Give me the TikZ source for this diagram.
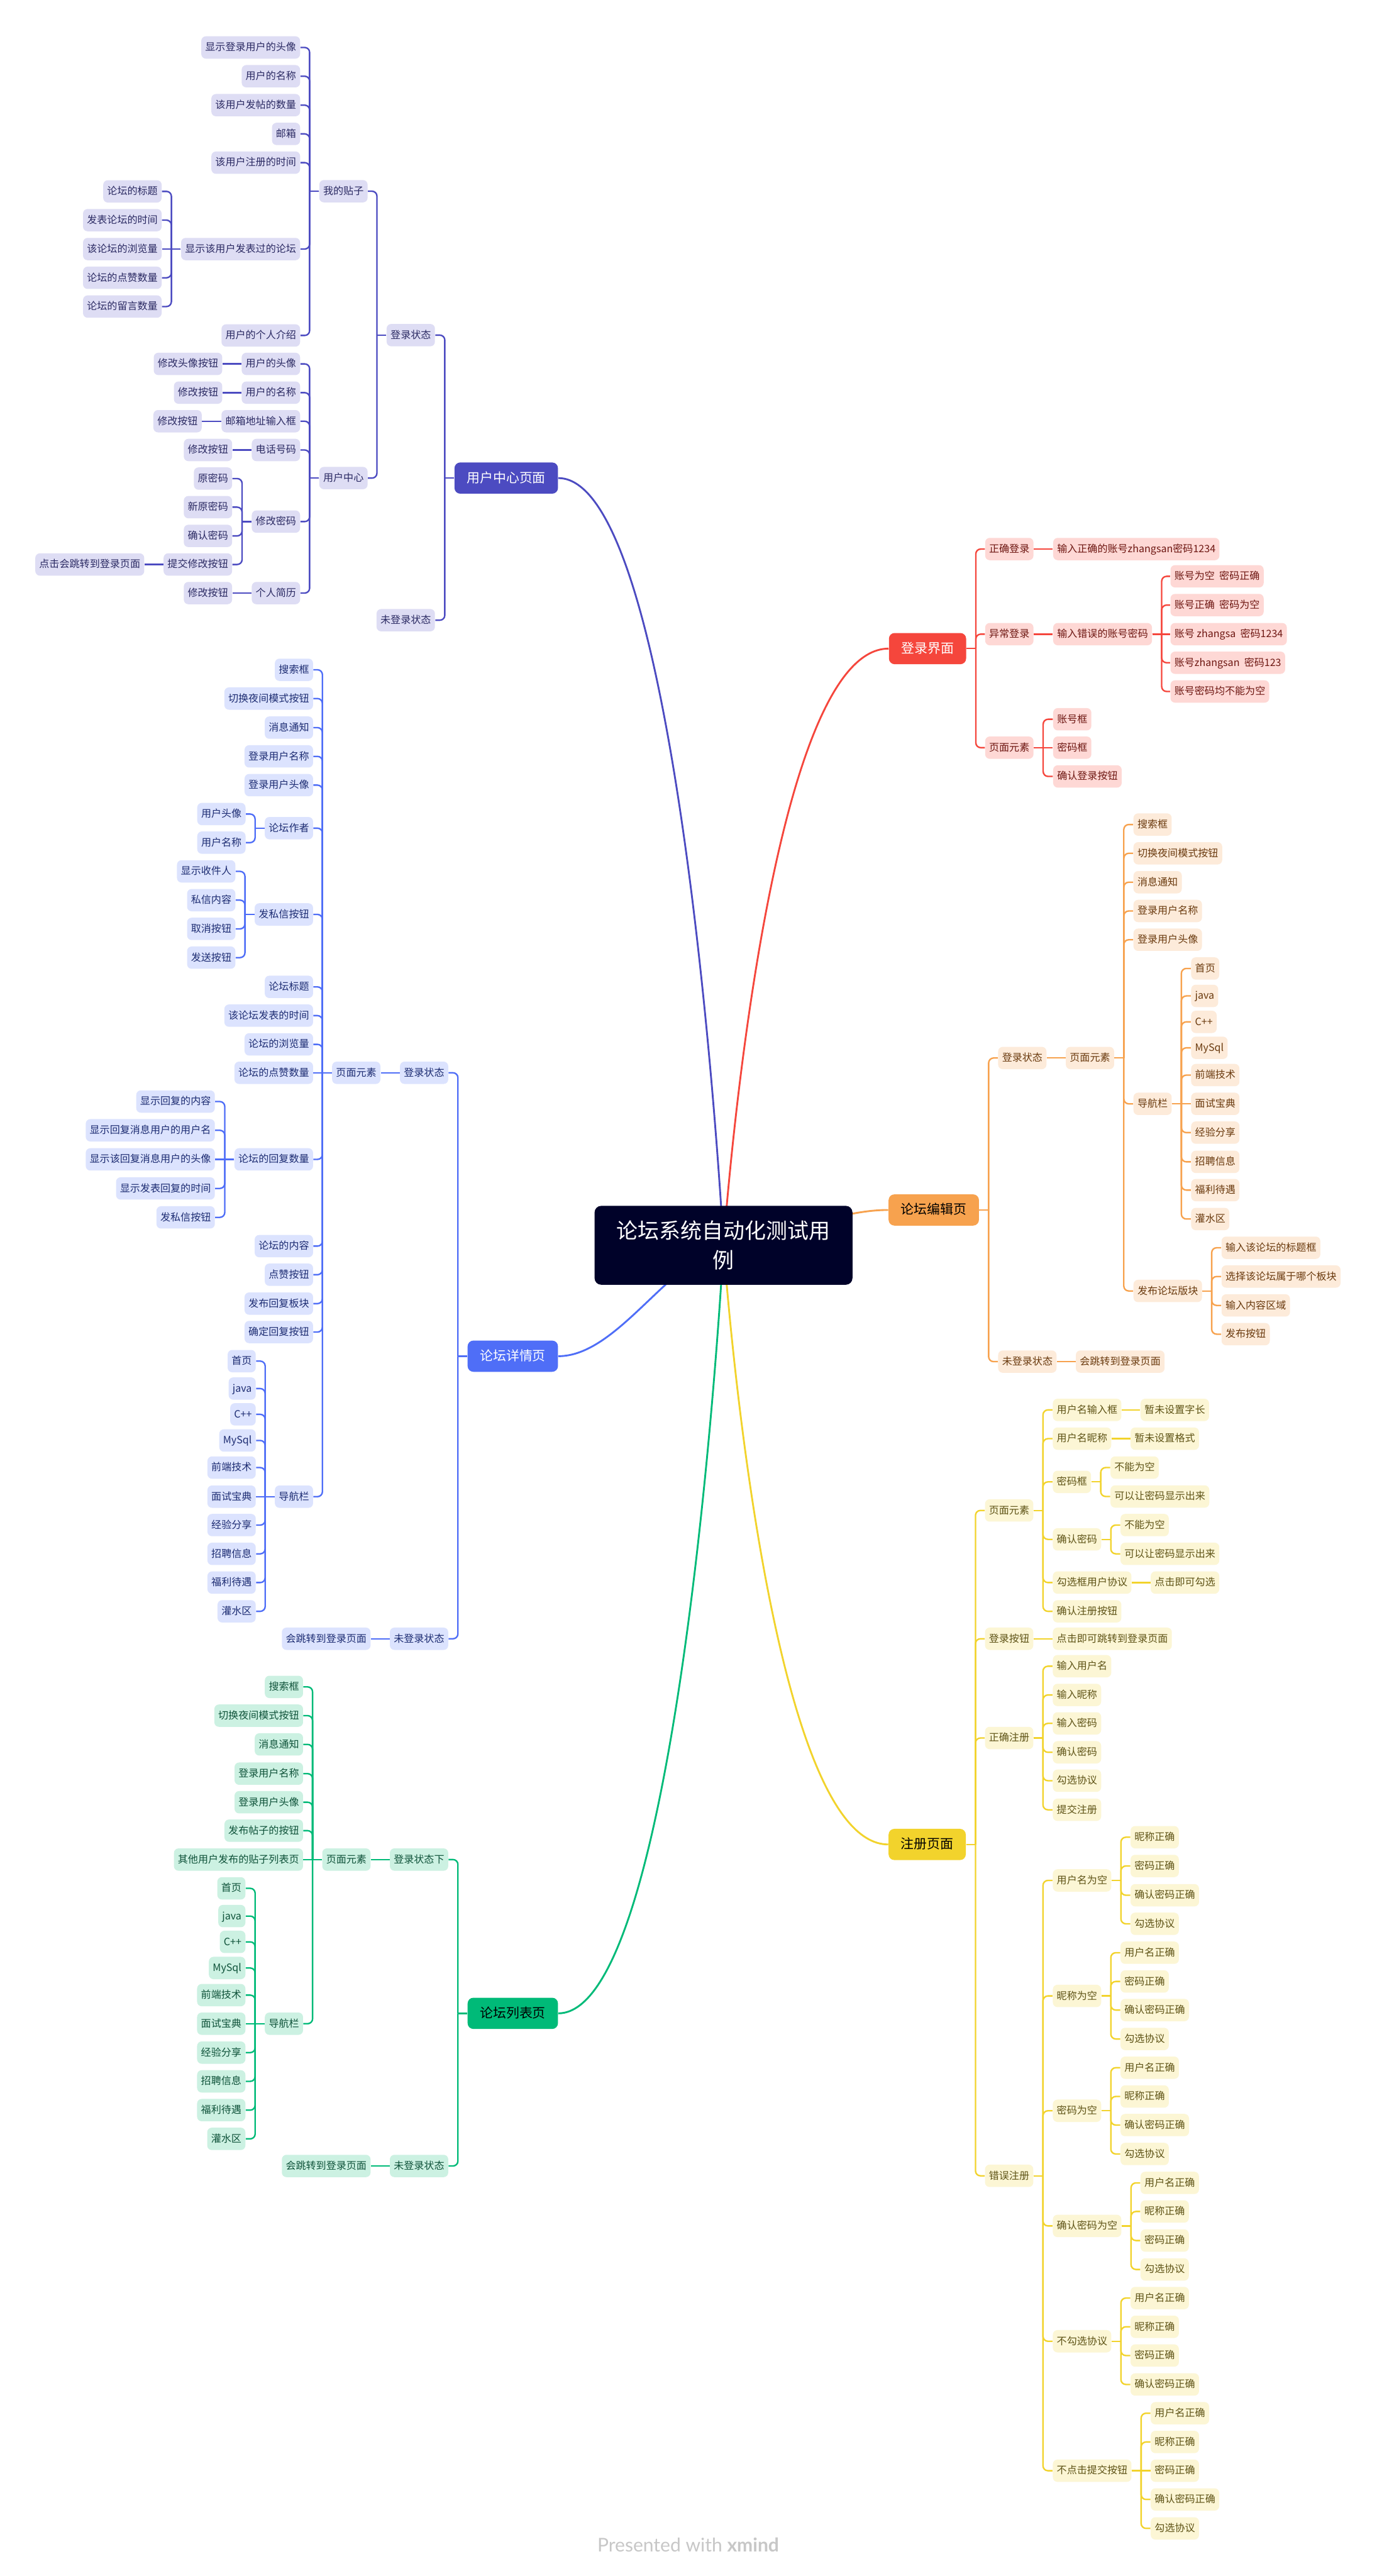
\documentclass[tikz,border=0pt]{standalone}
\usepackage{fontspec}
\setmainfont{Noto Sans CJK SC}
\newfontfamily\xmfont{Lato}
\usetikzlibrary{calc}

\definecolor{rootc}{HTML}{000229}
\definecolor{puM}{HTML}{4C4BC1}
\definecolor{puL}{HTML}{DEDDF4}
\definecolor{puT}{HTML}{2B2A63}
\definecolor{blM}{HTML}{4F6EF7}
\definecolor{blL}{HTML}{DCE3FE}
\definecolor{blT}{HTML}{1D2C72}
\definecolor{grM}{HTML}{00BA78}
\definecolor{grL}{HTML}{CCF1E2}
\definecolor{grT}{HTML}{0E5239}
\definecolor{rdM}{HTML}{F5463C}
\definecolor{rdL}{HTML}{FED8D5}
\definecolor{rdT}{HTML}{6E1712}
\definecolor{ogM}{HTML}{F7A24E}
\definecolor{ogL}{HTML}{FDEBDA}
\definecolor{ogT}{HTML}{6A3A0E}
\definecolor{yeM}{HTML}{F2D32C}
\definecolor{yeL}{HTML}{FCF6D5}
\definecolor{yeT}{HTML}{5E5316}

\tikzset{
  leaf/.style={rounded corners=2.8pt, inner xsep=2.4pt, inner ysep=0pt, minimum height=13.6pt,
    text height=5.2pt, text depth=1.1pt, font=\fontsize{6.15}{7.4}\selectfont},
  topic/.style={rounded corners=3.5pt, inner xsep=7.5pt, inner ysep=0pt, minimum height=19pt,
    text height=6.8pt, text depth=1.4pt, font=\fontsize{8}{9.6}\selectfont},
  central/.style={fill=rootc, text=white, rounded corners=4pt, minimum width=157pt, minimum height=48pt,
    align=center, font=\fontsize{13}{18}\selectfont},
  lnk/.style={line width=0.9pt},
  curve/.style={line width=1.1pt},
}

% elbow links, children on the left / on the right
\newcommand{\llink}[2]{%
  \draw[lnk] (#1.west) -- ++(-5.7,0);
  \draw[lnk,rounded corners=3pt] (#1.west) ++(-5.7,0) |- (#2.east);}
\newcommand{\rlink}[2]{%
  \draw[lnk] (#1.east) -- ++(5.7,0);
  \draw[lnk,rounded corners=3pt] (#1.east) ++(5.7,0) |- (#2.west);}
\newcommand{\llinks}[2]{\foreach \kid in {#2}{\llink{#1}{\kid}}}
\newcommand{\rlinks}[2]{\foreach \kid in {#2}{\rlink{#1}{\kid}}}

\begin{document}
\begin{tikzpicture}[x=1pt,y=-1pt]
    \fill[white] (0,0) rectangle (838,1568);
    \useasboundingbox (0,0) rectangle (838,1568);
    \coordinate (rc) at (440.5,758);

    % user centre page
    \begin{scope}[leaf/.append style={fill=puL,text=puT}, lnk/.append style={draw=puM}]
    \node[topic, fill=puM, text=white, anchor=east] (u) at (339.9,291) {用户中心页面};
    \node[leaf, anchor=east] (u1) at (265,204) {登录状态};
    \node[leaf, anchor=east] (u2) at (265,377.5) {未登录状态};
    \node[leaf, anchor=east] (u11) at (224,116.4) {我的贴子};
    \node[leaf, anchor=east] (u12) at (224,291) {用户中心};
    \node[leaf, anchor=east] (u111) at (182.9,28.9) {显示登录用户的头像};
    \node[leaf, anchor=east] (u112) at (182.9,46.4) {用户的名称};
    \node[leaf, anchor=east] (u113) at (182.9,64) {该用户发帖的数量};
    \node[leaf, anchor=east] (u114) at (182.9,81.5) {邮箱};
    \node[leaf, anchor=east] (u115) at (182.9,99) {该用户注册的时间};
    \node[leaf, anchor=east] (u116) at (182.9,151.6) {显示该用户发表过的论坛};
    \node[leaf, anchor=east] (u117) at (182.9,204.2) {用户的个人介绍};
    \node[leaf, anchor=east] (u1161) at (98.6,116.5) {论坛的标题};
    \node[leaf, anchor=east] (u1162) at (98.6,134) {发表论坛的时间};
    \node[leaf, anchor=east] (u1163) at (98.6,151.6) {该论坛的浏览量};
    \node[leaf, anchor=east] (u1164) at (98.6,169.1) {论坛的点赞数量};
    \node[leaf, anchor=east] (u1165) at (98.6,186.6) {论坛的留言数量};
    \node[leaf, anchor=east] (u121) at (182.9,221.5) {用户的头像};
    \node[leaf, anchor=east] (u122) at (182.9,239) {用户的名称};
    \node[leaf, anchor=east] (u123) at (182.9,256.4) {邮箱地址输入框};
    \node[leaf, anchor=east] (u124) at (182.9,273.9) {电话号码};
    \node[leaf, anchor=east] (u125) at (182.9,317.5) {修改密码};
    \node[leaf, anchor=east] (u126) at (182.9,361) {个人简历};
    \node[leaf, anchor=east] (u1211) at (135.5,221.5) {修改头像按钮};
    \node[leaf, anchor=east] (u1221) at (135.5,239) {修改按钮};
    \node[leaf, anchor=east] (u1231) at (123,256.4) {修改按钮};
    \node[leaf, anchor=east] (u1241) at (141.5,273.9) {修改按钮};
    \node[leaf, anchor=east] (u1251) at (141.5,291.3) {原密码};
    \node[leaf, anchor=east] (u1252) at (141.5,308.7) {新原密码};
    \node[leaf, anchor=east] (u1253) at (141.5,326.2) {确认密码};
    \node[leaf, anchor=east] (u1254) at (141.5,343.6) {提交修改按钮};
    \node[leaf, anchor=east] (u12541) at (88,343.6) {点击会跳转到登录页面};
    \node[leaf, anchor=east] (u1261) at (141.5,361) {修改按钮};
    \llinks{u}{u1,u2}
    \llinks{u1}{u11,u12}
    \llinks{u11}{u111,u112,u113,u114,u115,u116,u117}
    \llinks{u116}{u1161,u1162,u1164,u1165}
    \draw[lnk] (u116) -- (u1163);
    \llinks{u12}{u121,u122,u123,u124,u125,u126}
    \draw[lnk] (u121) -- (u1211);
    \draw[lnk] (u122) -- (u1221);
    \draw[lnk] (u123) -- (u1231);
    \draw[lnk] (u124) -- (u1241);
    \llinks{u125}{u1251,u1252,u1253,u1254}
    \draw[lnk] (u1254) -- (u12541);
    \draw[lnk] (u126) -- (u1261);
    \end{scope}

    % login page
    \begin{scope}[leaf/.append style={fill=rdL,text=rdT}, lnk/.append style={draw=rdM}]
    \node[topic, fill=rdM, text=white, anchor=west] (r) at (541,394.8) {登录界面};
    \node[leaf, anchor=west] (r1) at (599.6,334.2) {正确登录};
    \node[leaf, anchor=west] (r2) at (599.6,386) {异常登录};
    \node[leaf, anchor=west] (r3) at (599.6,455.1) {页面元素};
    \node[leaf, anchor=west] (r11) at (641,334.2) {输入正确的账号zhangsan密码1234};
    \node[leaf, anchor=west] (r21) at (641,386) {输入错误的账号密码};
    \node[leaf, anchor=west] (r211) at (712.4,350.8) {账号为空\ \ 密码正确};
    \node[leaf, anchor=west] (r212) at (712.4,368.3) {账号正确\ \ 密码为空};
    \node[leaf, anchor=west] (r213) at (712.4,386) {账号 zhangsa\ \ 密码1234};
    \node[leaf, anchor=west] (r214) at (712.4,403.4) {账号zhangsan\ \ 密码123};
    \node[leaf, anchor=west] (r215) at (712.4,420.9) {账号密码均不能为空};
    \node[leaf, anchor=west] (r31) at (641,437.8) {账号框};
    \node[leaf, anchor=west] (r32) at (641,455.1) {密码框};
    \node[leaf, anchor=west] (r33) at (641,472.6) {确认登录按钮};
    \rlinks{r}{r1,r2,r3}
    \draw[lnk] (r1) -- (r11);
    \draw[lnk] (r2) -- (r21);
    \rlinks{r21}{r211,r212,r214,r215}
    \draw[lnk] (r21) -- (r213);
    \rlinks{r3}{r31,r33}
    \draw[lnk] (r3) -- (r32);
    \end{scope}

    % forum edit page
    \begin{scope}[leaf/.append style={fill=ogL,text=ogT}, lnk/.append style={draw=ogM}]
    \node[topic, fill=ogM, anchor=west] (e) at (540.8,736.5) {论坛编辑页};
    \node[leaf, anchor=west] (e1) at (607.5,644) {登录状态};
    \node[leaf, anchor=west] (e2) at (607.5,828.8) {未登录状态};
    \node[leaf, anchor=west] (e11) at (648.7,644) {页面元素};
    \node[leaf, anchor=west] (e21) at (654.8,828.8) {会跳转到登录页面};
    \node[leaf, anchor=west] (e111) at (689.9,501.9) {搜索框};
    \node[leaf, anchor=west] (e112) at (689.9,519.4) {切换夜间模式按钮};
    \node[leaf, anchor=west] (e113) at (689.9,537) {消息通知};
    \node[leaf, anchor=west] (e114) at (689.9,554.5) {登录用户名称};
    \node[leaf, anchor=west] (e115) at (689.9,572) {登录用户头像};
    \node[leaf, anchor=west] (e116) at (689.9,671.9) {导航栏};
    \node[leaf, anchor=west] (e117) at (689.9,785.8) {发布论坛版块};
    \node[leaf, anchor=west] (en1) at (725,589.5) {首页};
    \node[leaf, anchor=west] (en2) at (725,606.2) {java};
    \node[leaf, anchor=west] (en3) at (725,622) {C++};
    \node[leaf, anchor=west] (en4) at (725,637.8) {MySql};
    \node[leaf, anchor=west] (en5) at (725,654.4) {前端技术};
    \node[leaf, anchor=west] (en6) at (725,671.9) {面试宝典};
    \node[leaf, anchor=west] (en7) at (725,689.4) {经验分享};
    \node[leaf, anchor=west] (en8) at (725,707.2) {招聘信息};
    \node[leaf, anchor=west] (en9) at (725,724.4) {福利待遇};
    \node[leaf, anchor=west] (en10) at (725,742) {灌水区};
    \node[leaf, anchor=west] (ep1) at (743.5,759.5) {输入该论坛的标题框};
    \node[leaf, anchor=west] (ep2) at (743.5,777) {选择该论坛属于哪个板块};
    \node[leaf, anchor=west] (ep3) at (743.5,794.6) {输入内容区域};
    \node[leaf, anchor=west] (ep4) at (743.5,812.1) {发布按钮};
    \rlinks{e}{e1,e2}
    \draw[lnk] (e1) -- (e11);
    \draw[lnk] (e2) -- (e21);
    \rlinks{e11}{e111,e112,e113,e114,e115,e116,e117}
    \rlinks{e116}{en1,en2,en3,en4,en5,en7,en8,en9,en10}
    \draw[lnk] (e116) -- (en6);
    \rlinks{e117}{ep1,ep2,ep3,ep4}
    \end{scope}

    % register page
    \begin{scope}[leaf/.append style={fill=yeL,text=yeT}, lnk/.append style={draw=yeM}]
    \node[topic, fill=yeM, anchor=west] (z) at (540.8,1122.7) {注册页面};
    \node[leaf, anchor=west] (z1) at (599.5,919.4) {页面元素};
    \node[leaf, anchor=west] (z2) at (599.5,997.5) {登录按钮};
    \node[leaf, anchor=west] (z3) at (599.5,1057.9) {正确注册};
    \node[leaf, anchor=west] (z4) at (599.5,1324.4) {错误注册};
    \node[leaf, anchor=west] (z11) at (640.8,858.2) {用户名输入框};
    \node[leaf, anchor=west] (z12) at (640.8,875.7) {用户名昵称};
    \node[leaf, anchor=west] (z13) at (640.8,902) {密码框};
    \node[leaf, anchor=west] (z14) at (640.8,937) {确认密码};
    \node[leaf, anchor=west] (z15) at (640.8,963.3) {勾选框用户协议};
    \node[leaf, anchor=west] (z16) at (640.8,980.8) {确认注册按钮};
    \node[leaf, anchor=west] (z111) at (694.2,858.2) {暂未设置字长};
    \node[leaf, anchor=west] (z121) at (688.1,875.7) {暂未设置格式};
    \node[leaf, anchor=west] (z131) at (675.9,893.3) {不能为空};
    \node[leaf, anchor=west] (z132) at (675.9,910.9) {可以让密码显示出来};
    \node[leaf, anchor=west] (z141) at (682,928.3) {不能为空};
    \node[leaf, anchor=west] (z142) at (682,945.8) {可以让密码显示出来};
    \node[leaf, anchor=west] (z151) at (700.4,963.3) {点击即可勾选};
    \node[leaf, anchor=west] (z21) at (640.8,997.5) {点击即可跳转到登录页面};
    \node[leaf, anchor=west] (z31) at (640.8,1014.2) {输入用户名};
    \node[leaf, anchor=west] (z32) at (640.8,1031.7) {输入昵称};
    \node[leaf, anchor=west] (z33) at (640.8,1049) {输入密码};
    \node[leaf, anchor=west] (z34) at (640.8,1066.6) {确认密码};
    \node[leaf, anchor=west] (z35) at (640.8,1083.9) {勾选协议};
    \node[leaf, anchor=west] (z36) at (640.8,1101.6) {提交注册};
    \node[leaf, anchor=west] (z41) at (640.8,1144.6) {用户名为空};
    \node[leaf, anchor=west] (z42) at (640.8,1214.9) {昵称为空};
    \node[leaf, anchor=west] (z43) at (640.8,1284.8) {密码为空};
    \node[leaf, anchor=west] (z44) at (640.8,1354.9) {确认密码为空};
    \node[leaf, anchor=west] (z45) at (640.8,1425.1) {不勾选协议};
    \node[leaf, anchor=west] (z46) at (640.8,1503.9) {不点击提交按钮};
    \node[leaf, anchor=west] (z411) at (688.1,1118.3) {昵称正确};
    \node[leaf, anchor=west] (z412) at (688.1,1135.8) {密码正确};
    \node[leaf, anchor=west] (z413) at (688.1,1153.6) {确认密码正确};
    \node[leaf, anchor=west] (z414) at (688.1,1171) {勾选协议};
    \node[leaf, anchor=west] (z421) at (682,1188.6) {用户名正确};
    \node[leaf, anchor=west] (z422) at (682,1206.1) {密码正确};
    \node[leaf, anchor=west] (z423) at (682,1223.5) {确认密码正确};
    \node[leaf, anchor=west] (z424) at (682,1241.1) {勾选协议};
    \node[leaf, anchor=west] (z431) at (682,1258.6) {用户名正确};
    \node[leaf, anchor=west] (z432) at (682,1276.1) {昵称正确};
    \node[leaf, anchor=west] (z433) at (682,1293.5) {确认密码正确};
    \node[leaf, anchor=west] (z434) at (682,1311.1) {勾选协议};
    \node[leaf, anchor=west] (z441) at (694.2,1328.7) {用户名正确};
    \node[leaf, anchor=west] (z442) at (694.2,1346.1) {昵称正确};
    \node[leaf, anchor=west] (z443) at (694.2,1363.8) {密码正确};
    \node[leaf, anchor=west] (z444) at (694.2,1381.4) {勾选协议};
    \node[leaf, anchor=west] (z451) at (688.1,1398.8) {用户名正确};
    \node[leaf, anchor=west] (z452) at (688.1,1416.3) {昵称正确};
    \node[leaf, anchor=west] (z453) at (688.1,1433.8) {密码正确};
    \node[leaf, anchor=west] (z454) at (688.1,1451.4) {确认密码正确};
    \node[leaf, anchor=west] (z461) at (700.4,1468.9) {用户名正确};
    \node[leaf, anchor=west] (z462) at (700.4,1486.4) {昵称正确};
    \node[leaf, anchor=west] (z463) at (700.4,1503.9) {密码正确};
    \node[leaf, anchor=west] (z464) at (700.4,1521.4) {确认密码正确};
    \node[leaf, anchor=west] (z465) at (700.4,1539) {勾选协议};
    \rlinks{z}{z1,z2,z3,z4}
    \rlinks{z1}{z11,z12,z13,z14,z15,z16}
    \draw[lnk] (z11) -- (z111);
    \draw[lnk] (z12) -- (z121);
    \rlinks{z13}{z131,z132}
    \rlinks{z14}{z141,z142}
    \draw[lnk] (z15) -- (z151);
    \draw[lnk] (z2) -- (z21);
    \rlinks{z3}{z31,z32,z33,z34,z35,z36}
    \rlinks{z4}{z41,z42,z43,z44,z45,z46}
    \rlinks{z41}{z411,z412,z413,z414}
    \rlinks{z42}{z421,z422,z423,z424}
    \rlinks{z43}{z431,z432,z433,z434}
    \rlinks{z44}{z441,z442,z443,z444}
    \rlinks{z45}{z451,z452,z453,z454}
    \rlinks{z46}{z461,z462,z464,z465}
    \draw[lnk] (z46) -- (z463);
    \end{scope}

    % forum detail page
    \begin{scope}[leaf/.append style={fill=blL,text=blT}, lnk/.append style={draw=blM}]
    \node[topic, fill=blM, text=white, anchor=east] (d) at (339.9,825.5) {论坛详情页};
    \node[leaf, anchor=east] (d1) at (273.1,653) {登录状态};
    \node[leaf, anchor=east] (d2) at (273.1,997.5) {未登录状态};
    \node[leaf, anchor=east] (d11) at (231.8,653) {页面元素};
    \node[leaf, anchor=east] (d21) at (225.8,997.5) {会跳转到登录页面};
    \node[leaf, anchor=east] (da1) at (190.8,407.7) {搜索框};
    \node[leaf, anchor=east] (da2) at (190.8,425.2) {切换夜间模式按钮};
    \node[leaf, anchor=east] (da3) at (190.8,442.9) {消息通知};
    \node[leaf, anchor=east] (da4) at (190.8,460.4) {登录用户名称};
    \node[leaf, anchor=east] (da5) at (190.8,477.9) {登录用户头像};
    \node[leaf, anchor=east] (da6) at (190.8,504.1) {论坛作者};
    \node[leaf, anchor=east] (da7) at (190.8,556.6) {发私信按钮};
    \node[leaf, anchor=east] (da8) at (190.8,600.7) {论坛标题};
    \node[leaf, anchor=east] (da9) at (190.8,618.2) {该论坛发表的时间};
    \node[leaf, anchor=east] (da10) at (190.8,635.7) {论坛的浏览量};
    \node[leaf, anchor=east] (da11) at (190.8,653) {论坛的点赞数量};
    \node[leaf, anchor=east] (da12) at (190.8,705.7) {论坛的回复数量};
    \node[leaf, anchor=east] (da13) at (190.8,758.5) {论坛的内容};
    \node[leaf, anchor=east] (da14) at (190.8,775.9) {点赞按钮};
    \node[leaf, anchor=east] (da15) at (190.8,793.5) {发布回复板块};
    \node[leaf, anchor=east] (da16) at (190.8,810.8) {确定回复按钮};
    \node[leaf, anchor=east] (da17) at (190.8,911) {导航栏};
    \node[leaf, anchor=east] (db1) at (149.7,495.5) {用户头像};
    \node[leaf, anchor=east] (db2) at (149.7,512.9) {用户名称};
    \node[leaf, anchor=east] (dc1) at (143.5,530.4) {显示收件人};
    \node[leaf, anchor=east] (dc2) at (143.5,547.9) {私信内容};
    \node[leaf, anchor=east] (dc3) at (143.5,565.4) {取消按钮};
    \node[leaf, anchor=east] (dc4) at (143.5,582.9) {发送按钮};
    \node[leaf, anchor=east] (dd1) at (131,670.5) {显示回复的内容};
    \node[leaf, anchor=east] (dd2) at (131,688) {显示回复消息用户的用户名};
    \node[leaf, anchor=east] (dd3) at (131,705.7) {显示该回复消息用户的头像};
    \node[leaf, anchor=east] (dd4) at (131,723.4) {显示发表回复的时间};
    \node[leaf, anchor=east] (dd5) at (131,741) {发私信按钮};
    \node[leaf, anchor=east] (dn1) at (155.9,828.5) {首页};
    \node[leaf, anchor=east] (dn2) at (155.9,845.2) {java};
    \node[leaf, anchor=east] (dn3) at (155.9,860.9) {C++};
    \node[leaf, anchor=east] (dn4) at (155.9,876.8) {MySql};
    \node[leaf, anchor=east] (dn5) at (155.9,893.3) {前端技术};
    \node[leaf, anchor=east] (dn6) at (155.9,911) {面试宝典};
    \node[leaf, anchor=east] (dn7) at (155.9,928.3) {经验分享};
    \node[leaf, anchor=east] (dn8) at (155.9,945.8) {招聘信息};
    \node[leaf, anchor=east] (dn9) at (155.9,963.3) {福利待遇};
    \node[leaf, anchor=east] (dn10) at (155.9,980.8) {灌水区};
    \llinks{d}{d1,d2}
    \draw[lnk] (d1) -- (d11);
    \draw[lnk] (d2) -- (d21);
    \llinks{d11}{da1,da2,da3,da4,da5,da6,da7,da8,da9,da10,da12,da13,da14,da15,da16,da17}
    \draw[lnk] (d11) -- (da11);
    \llinks{da6}{db1,db2}
    \llinks{da7}{dc1,dc2,dc3,dc4}
    \llinks{da12}{dd1,dd2,dd4,dd5}
    \draw[lnk] (da12) -- (dd3);
    \llinks{da17}{dn1,dn2,dn3,dn4,dn5,dn7,dn8,dn9,dn10}
    \draw[lnk] (da17) -- (dn6);
    \end{scope}

    % forum list page
    \begin{scope}[leaf/.append style={fill=grL,text=grT}, lnk/.append style={draw=grM}]
    \node[topic, fill=grM, anchor=east] (g) at (339.9,1225.5) {论坛列表页};
    \node[leaf, anchor=east] (g1) at (273.1,1131.9) {登录状态下};
    \node[leaf, anchor=east] (g2) at (273.1,1318.4) {未登录状态};
    \node[leaf, anchor=east] (g11) at (225.8,1131.9) {页面元素};
    \node[leaf, anchor=east] (g21) at (225.8,1318.4) {会跳转到登录页面};
    \node[leaf, anchor=east] (ga1) at (184.7,1026.8) {搜索框};
    \node[leaf, anchor=east] (ga2) at (184.7,1044.3) {切换夜间模式按钮};
    \node[leaf, anchor=east] (ga3) at (184.7,1061.8) {消息通知};
    \node[leaf, anchor=east] (ga4) at (184.7,1079.6) {登录用户名称};
    \node[leaf, anchor=east] (ga5) at (184.7,1097) {登录用户头像};
    \node[leaf, anchor=east] (ga6) at (184.7,1114.3) {发布帖子的按钮};
    \node[leaf, anchor=east] (ga7) at (184.7,1131.9) {其他用户发布的贴子列表页};
    \node[leaf, anchor=east] (ga8) at (184.7,1231.8) {导航栏};
    \node[leaf, anchor=east] (gn1) at (149.6,1149.4) {首页};
    \node[leaf, anchor=east] (gn2) at (149.6,1166.3) {java};
    \node[leaf, anchor=east] (gn3) at (149.6,1182) {C++};
    \node[leaf, anchor=east] (gn4) at (149.6,1197.9) {MySql};
    \node[leaf, anchor=east] (gn5) at (149.6,1214.4) {前端技术};
    \node[leaf, anchor=east] (gn6) at (149.6,1231.8) {面试宝典};
    \node[leaf, anchor=east] (gn7) at (149.6,1249.4) {经验分享};
    \node[leaf, anchor=east] (gn8) at (149.6,1266.9) {招聘信息};
    \node[leaf, anchor=east] (gn9) at (149.6,1284.4) {福利待遇};
    \node[leaf, anchor=east] (gn10) at (149.6,1301.9) {灌水区};
    \llinks{g}{g1,g2}
    \draw[lnk] (g1) -- (g11);
    \draw[lnk] (g2) -- (g21);
    \llinks{g11}{ga1,ga2,ga3,ga4,ga5,ga6,ga8}
    \draw[lnk] (g11) -- (ga7);
    \llinks{ga8}{gn1,gn2,gn3,gn4,gn5,gn7,gn8,gn9,gn10}
    \draw[lnk] (ga8) -- (gn6);
    \end{scope}

    % main curves
    \draw[curve, draw=puM] (rc) .. controls (rc) and (415.4,291) .. (u.east);
    \draw[curve, draw=blM] (rc) .. controls (405,770) and (375,825.5) .. (d.east);
    \draw[curve, draw=grM] (rc) .. controls (rc) and (415.4,1225.5) .. (g.east);
    \draw[curve, draw=rdM] (rc) .. controls (rc) and (465.6,394.8) .. (r.west);
    \draw[curve, draw=ogM] (rc) .. controls (480,752) and (510,736.5) .. (e.west);
    \draw[curve, draw=yeM] (rc) .. controls (rc) and (465.6,1122.7) .. (z.west);

    % central topic
    \node[central] (root) at (rc) {论坛系统自动化测试用\\例};
    \node[text=black!22] (brand) at (419,1549) {\xmfont\fontsize{11.5}{14}\selectfont Presented with \textbf{xmind}};
\end{tikzpicture}
\end{document}
